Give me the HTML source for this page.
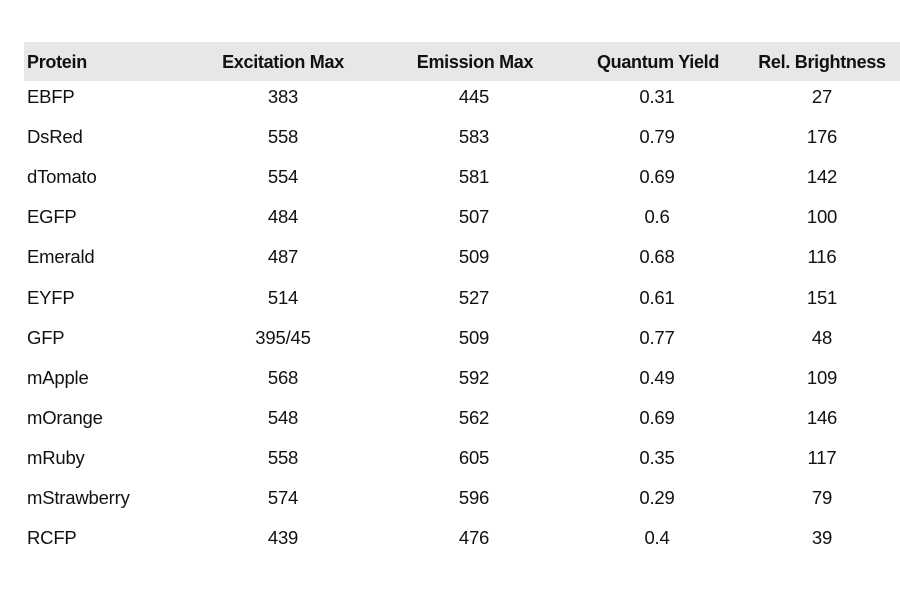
<!DOCTYPE html>
<html><head><style>
body{margin:0;width:900px;height:600px;background:#fff;position:relative;overflow:hidden;font-family:"Liberation Sans",sans-serif;color:#111;}
.hdr{position:absolute;left:24px;top:42px;width:876px;height:39px;background:#e7e7e7;}
.t{position:absolute;font-size:18.5px;line-height:20px;white-space:nowrap;letter-spacing:-0.2px;}
.b{font-weight:bold;font-size:18px;letter-spacing:-0.3px;}
.c{transform:translateX(-50%);}
</style></head><body>
<div class="hdr"></div>
<div class="t b" style="left:27px;top:52px">Protein</div>
<div class="t b c" style="left:283px;top:52px">Excitation Max</div>
<div class="t b c" style="left:475px;top:52px">Emission Max</div>
<div class="t b c" style="left:658px;top:52px">Quantum Yield</div>
<div class="t b c" style="left:822px;top:52px">Rel. Brightness</div>
<div id="rows"></div>
<script>
var d=[["EBFP","383","445","0.31","27"],["DsRed","558","583","0.79","176"],["dTomato","554","581","0.69","142"],["EGFP","484","507","0.6","100"],["Emerald","487","509","0.68","116"],["EYFP","514","527","0.61","151"],["GFP","395/45","509","0.77","48"],["mApple","568","592","0.49","109"],["mOrange","548","562","0.69","146"],["mRuby","558","605","0.35","117"],["mStrawberry","574","596","0.29","79"],["RCFP","439","476","0.4","39"]];
var xs=[283,474,657,822],h="";
d.forEach(function(r,i){var y=87+i*40.1;
h+='<div class="t" style="left:27px;top:'+y+'px">'+r[0]+'</div>';
for(var j=1;j<5;j++)h+='<div class="t c" style="left:'+xs[j-1]+'px;top:'+y+'px">'+r[j]+'</div>';});
document.getElementById("rows").innerHTML=h;
</script>
</body></html>
